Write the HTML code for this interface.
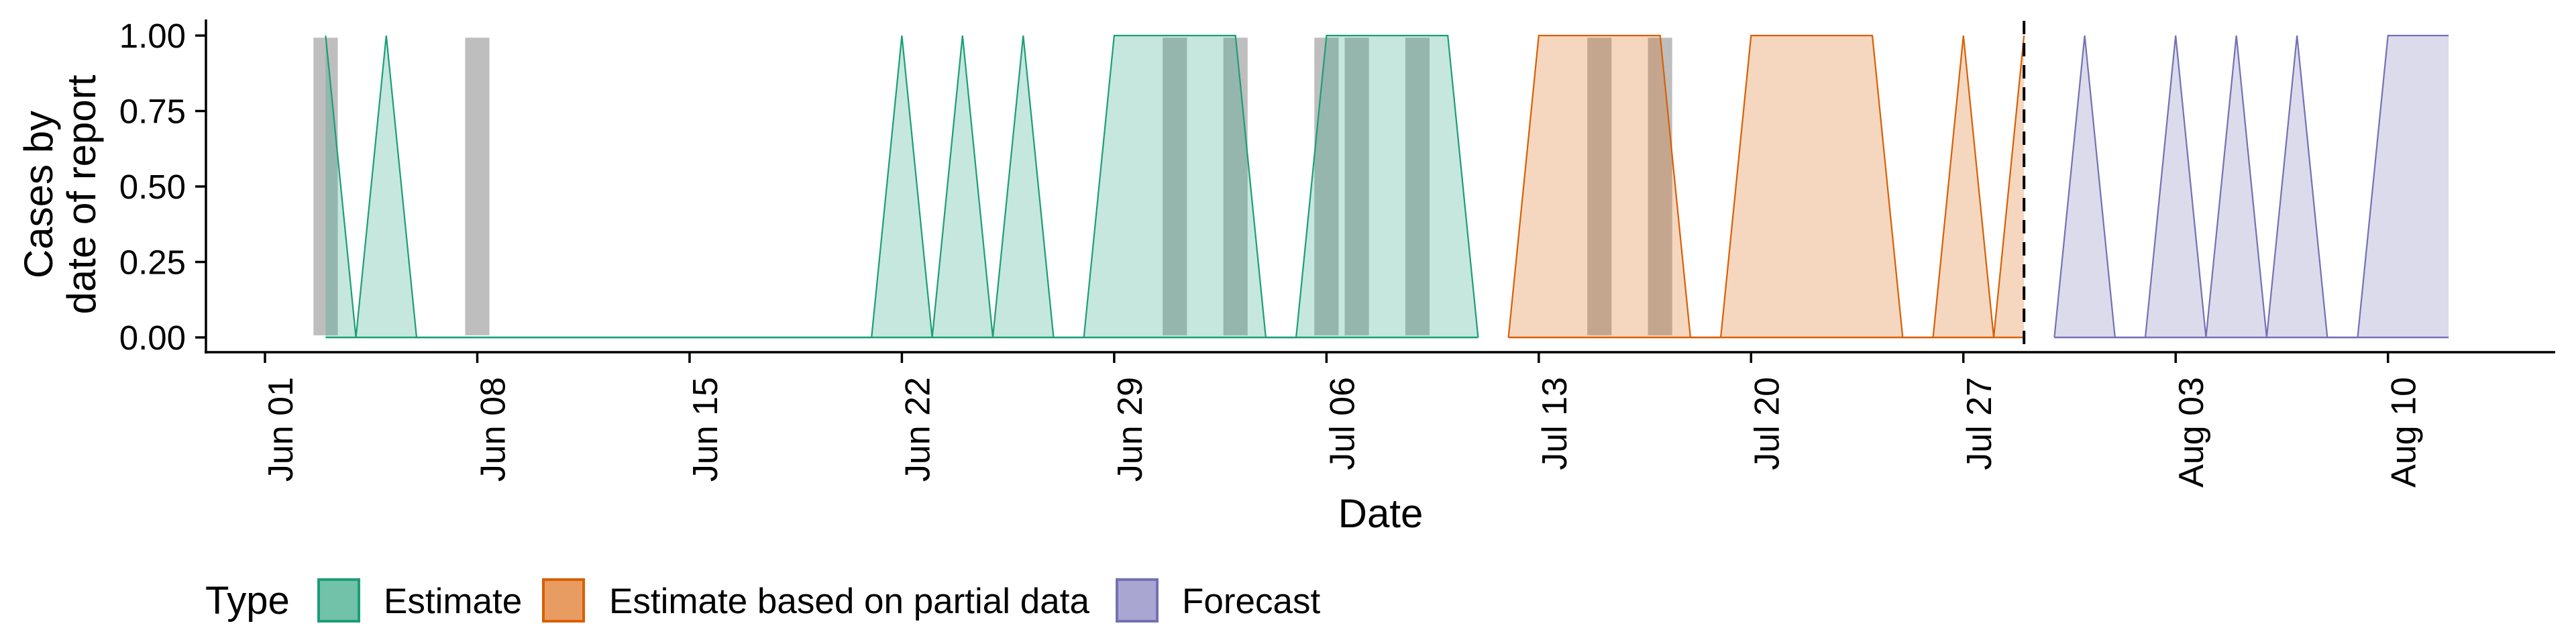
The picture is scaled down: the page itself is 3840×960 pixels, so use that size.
<!DOCTYPE html>
<html><head><meta charset="utf-8"><style>
html,body{margin:0;padding:0;background:#fff;}
svg{display:block;font-family:"Liberation Sans",sans-serif;}
</style></head><body>
<svg id="chart" width="3840" height="960" viewBox="0 0 3840 960">
<g id="gray"></g>
<g id="series"></g>
<g id="axes"></g>
</svg>
<script>
const tickLabels = ["Jun 01","Jun 08","Jun 15","Jun 22","Jun 29","Jul 06","Jul 13","Jul 20","Jul 27","Aug 03","Aug 10"];
const yTicks = [0, 0.25, 0.5, 0.75, 1];
const yTickLabels = ["0.00","0.25","0.50","0.75","1.00"];
const estimateStart = 2;
const estimateValues = [1,0,1,0,0,0,0,0,0,0,0,0,0,0,0,0,0,0,0,1,0,1,0,1,0,0,1,1,1,1,1,0,0,1,1,1,1,1,0];
const partialStart = 41;
const partialValues = [0,1,1,1,1,1,0,0,1,1,1,1,1,0,0,1,0,1];
const forecastStart = 59;
const forecastValues = [0,1,0,0,1,0,1,0,1,0,0,1,1,1];
const grayDays = [2,7,30,32,35,36,38,44,46];
const forecastDay = 58;

const NS = "http://www.w3.org/2000/svg";
const X0 = 395, DAY = 45.21, Y0 = 503, Y1 = 53;
const xs = d => X0 + d * DAY;
const ys = v => Y0 - v * (Y0 - Y1);
function mk(tag, attrs, parent) {
  const e = document.createElementNS(NS, tag);
  for (const k in attrs) e.setAttribute(k, attrs[k]);
  parent.appendChild(e);
  return e;
}
const gGray = document.getElementById('gray');
const gSeries = document.getElementById('series');
const gAxes = document.getElementById('axes');

grayDays.forEach(d => {
  const r = mk('rect', {x: xs(d - 0.4), y: ys(0.993), width: DAY * 0.8, height: ys(0.007) - ys(0.993), fill: '#bebebe'}, gGray);
  
  
});

function drawSeries(start, vals, color, name) {
  const pts = vals.map((v, i) => xs(start + i).toFixed(1) + ',' + ys(v).toFixed(1));
  const area = 'M' + xs(start) + ',' + ys(0) + ' L' + pts.join(' L') + ' L' + xs(start + vals.length - 1) + ',' + ys(0) + ' Z';
  const a = mk('path', {d: area, fill: color, 'fill-opacity': 0.25, stroke: 'none'}, gSeries);
  
  
  const l = mk('polyline', {points: pts.join(' '), fill: 'none', stroke: color, 'stroke-width': 2.2}, gSeries);
  
  
  const b = mk('line', {x1: xs(start), x2: xs(start + vals.length - 1), y1: ys(0), y2: ys(0), stroke: color, 'stroke-width': 2.5}, gSeries);
  
  
}
drawSeries(estimateStart, estimateValues, '#1b9e77', 'estimate');
drawSeries(partialStart, partialValues, '#d95f02', 'partial');
drawSeries(forecastStart, forecastValues, '#7570b3', 'forecast');

const dash = mk('line', {x1: xs(forecastDay), x2: xs(forecastDay), y1: 31, y2: 525, stroke: '#000', 'stroke-width': 4, 'stroke-dasharray': '20,13'}, gAxes);



const ya = mk('line', {x1: 307, x2: 307, y1: 29, y2: 527, stroke: '#000', 'stroke-width': 3.5}, gAxes);


const xa = mk('line', {x1: 305, x2: 3809, y1: 525, y2: 525, stroke: '#000', 'stroke-width': 3.5}, gAxes);



yTicks.forEach((v, i) => {
  const t = mk('line', {x1: 291, x2: 307, y1: ys(v), y2: ys(v), stroke: '#000', 'stroke-width': 3.5}, gAxes);
  
  
  const tx = mk('text', {x: 277, y: ys(v) + 18, 'text-anchor': 'end', 'font-size': 51, fill: '#000'}, gAxes);
  tx.textContent = yTickLabels[i];
  
  
});
tickLabels.forEach((lab, i) => {
  const x = xs(i * 7);
  const t = mk('line', {x1: x, x2: x, y1: 525, y2: 541, stroke: '#000', 'stroke-width': 3.5}, gAxes);
  
  
  const tx = mk('text', {x: 0, y: 0, 'text-anchor': 'end', 'font-size': 52, fill: '#000', transform: 'translate(' + (x + 41) + ',562) rotate(-90)'}, gAxes);
  tx.textContent = lab;
  
  
});

const yt = mk('text', {x: 0, y: 0, 'text-anchor': 'middle', 'font-size': 60, fill: '#000', transform: 'translate(0,290) rotate(-90)'}, gAxes);


const ts1 = mk('tspan', {x: 0, y: 78}, yt); ts1.textContent = 'Cases by';
const ts2 = mk('tspan', {x: 0, y: 142}, yt); ts2.textContent = 'date of report';

const xt = mk('text', {x: 2058, y: 786, 'text-anchor': 'middle', 'font-size': 60, fill: '#000'}, gAxes);
xt.textContent = 'Date';



const lg = mk('g', {}, gAxes);


const lt = mk('text', {x: 306, y: 915, 'font-size': 58, fill: '#000'}, lg);
lt.textContent = 'Type';


const legendItems = [
  {label: 'Estimate', fill: '#71c2a9', stroke: '#1b9e77', bx: 475, tx: 572},
  {label: 'Estimate based on partial data', fill: '#e89c62', stroke: '#d95f02', bx: 810, tx: 908},
  {label: 'Forecast', fill: '#aaa6d2', stroke: '#7570b3', bx: 1665, tx: 1762}
];
legendItems.forEach(it => {
  const r = mk('rect', {x: it.bx, y: 864, width: 60, height: 62, fill: it.fill, stroke: it.stroke, 'stroke-width': 4}, lg);
  
  
  const t = mk('text', {x: it.tx, y: 914, 'font-size': 53, fill: '#000'}, lg);
  t.textContent = it.label;
  
  
});
</script>
</body></html>
